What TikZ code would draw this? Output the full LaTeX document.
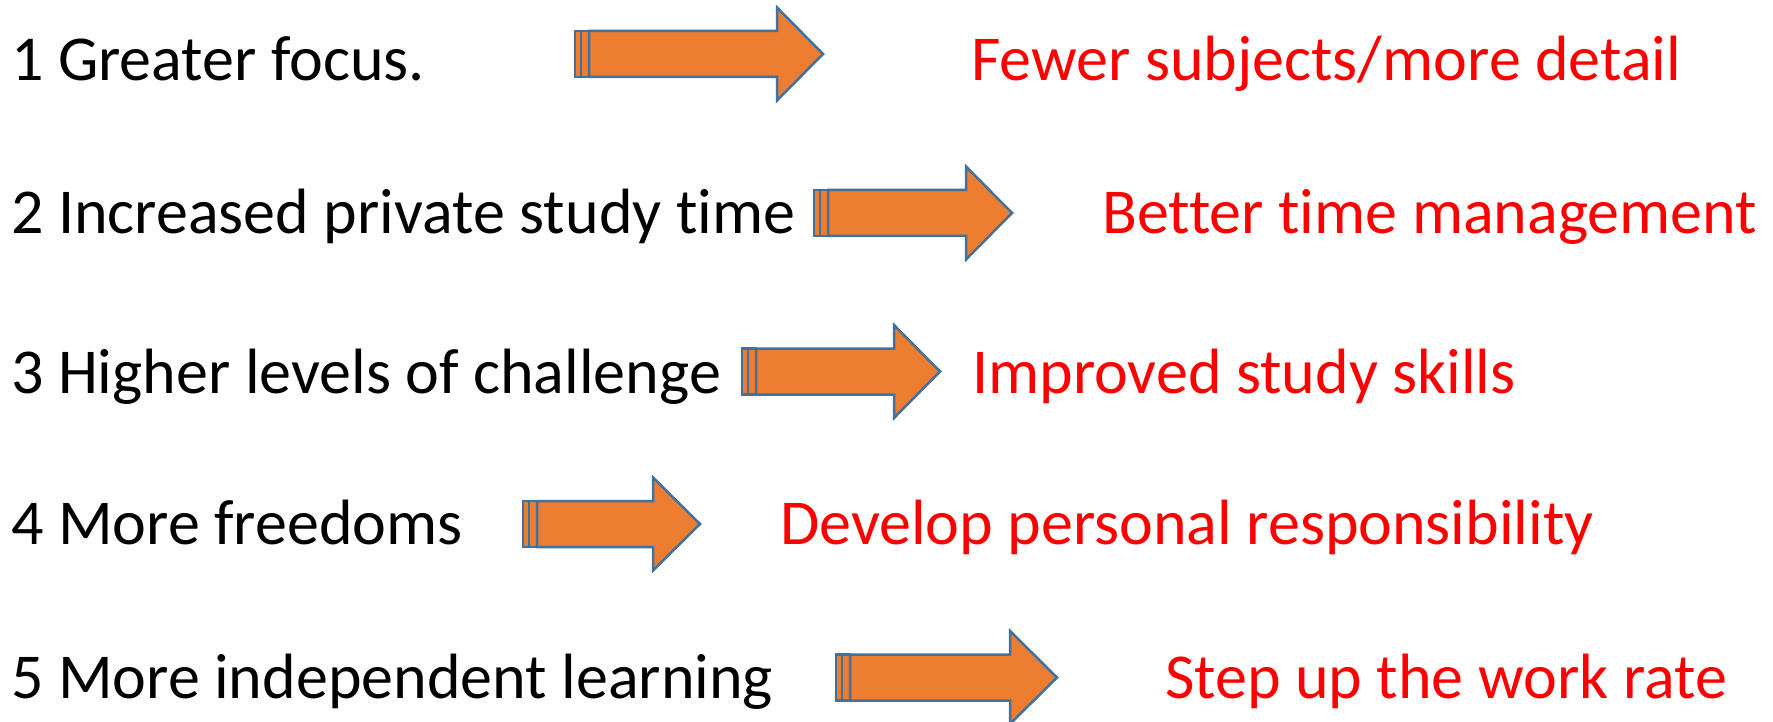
\documentclass[tikz,border=0pt]{standalone}
\usepackage{fontspec}
\setmainfont[Ligatures=NoCommon]{Carlito}
\definecolor{arrowfill}{HTML}{ED7D31}
\definecolor{arrowline}{HTML}{41719C}
\definecolor{redtext}{HTML}{FF0000}
\tikzset{
  blacklabel/.style={anchor=base west, inner sep=0pt, text=black, font=\fontsize{64}{76}\selectfont},
  redlabel/.style={anchor=base west, inner sep=0pt, text=redtext, font=\fontsize{64}{76}\selectfont},
  arrowshape/.style={fill=arrowfill, draw=arrowline, line width=2.5pt, line join=miter}
}
% #1 left x, #2 head start x, #3 tip x, #4 centre y
\newcommand\stripedArrow[4]{%
  \path[arrowshape] (#1,#4-23) rectangle (#1+6,#4+23);
  \path[arrowshape] (#1+6,#4-23) rectangle (#1+14,#4+23);
  \path[arrowshape] (#1+14,#4-23) -- (#2,#4-23) -- (#2,#4-46.5) -- (#3,#4)
     -- (#2,#4+46.5) -- (#2,#4+23) -- (#1+14,#4+23) -- cycle;
}
\begin{document}
\begin{tikzpicture}[x=1pt,y=-1pt]
\useasboundingbox (0,0) rectangle (1773,722);
\fill[white] (0,0) rectangle (1773,722);

\node[blacklabel] (l1) at (11,81) {1 Greater focus.};
\node[blacklabel] (l2) at (11,234) {2 Increased private study time};
\node[blacklabel] (l3) at (11,393) {3 Higher levels of challenge};
\node[blacklabel] (l4) at (11,544) {4 More freedoms};
\node[blacklabel] (l5) at (11,698) {5 More independent learning};

\node[redlabel] (r1) at (971,81) {Fewer subjects/more detail};
\node[redlabel] (r2) at (1102,234) {Better time management};
\node[redlabel] (r3) at (972,393) {Improved study skills};
\node[redlabel] (r4) at (780,544) {Develop personal responsibility};
\node[redlabel] (r5) at (1165,698) {Step up the work rate};

\stripedArrow{575}{777}{823}{54}
\stripedArrow{814}{966}{1012}{213}
\stripedArrow{742}{894}{940}{371.5}
\stripedArrow{523}{653}{700}{524}
\stripedArrow{836}{1010}{1057}{677.5}
\end{tikzpicture}
\end{document}
